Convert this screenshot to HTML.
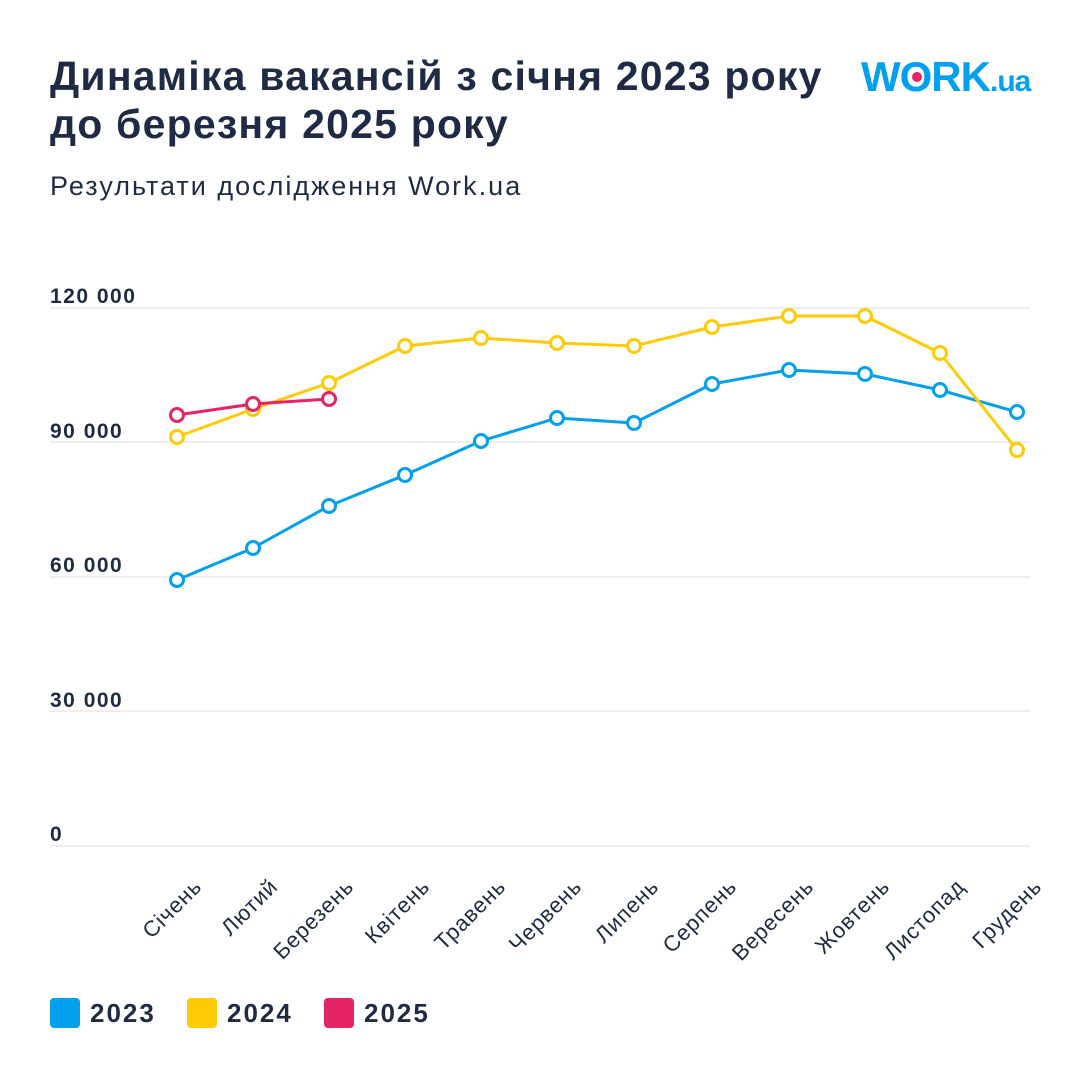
<!DOCTYPE html>
<html><head><meta charset="utf-8"><style>
html,body{margin:0;padding:0;background:#fff;}
body{width:1080px;height:1080px;overflow:hidden;font-family:"Liberation Sans","DejaVu Sans",sans-serif;}
</style></head><body>
<svg width="1080" height="1080" viewBox="0 0 1080 1080" xmlns="http://www.w3.org/2000/svg" font-family="Liberation Sans, DejaVu Sans, sans-serif">
<text x="50" y="90" font-size="41" font-weight="bold" fill="#1f2a44" letter-spacing="1.2">Динаміка вакансій з січня 2023 року</text>
<text x="50" y="138" font-size="41" font-weight="bold" fill="#1f2a44" letter-spacing="1.2">до березня 2025 року</text>
<text x="50" y="195" font-size="27" fill="#1f2a44" letter-spacing="2">Результати дослідження Work.ua</text>
<!-- logo -->
<text x="861" y="91" font-size="42" font-weight="bold" fill="#03a0ef" letter-spacing="-1">WORK<tspan font-size="30">.ua</tspan></text>
<circle cx="917" cy="77" r="5" fill="#e52465"/>
<!-- grid -->
<g stroke="#e8e9ee" stroke-width="1.5">
<line x1="50" y1="308" x2="1030" y2="308"/>
<line x1="50" y1="442" x2="1030" y2="442"/>
<line x1="50" y1="577" x2="1030" y2="577"/>
<line x1="50" y1="711" x2="1030" y2="711"/>
<line x1="50" y1="846" x2="1030" y2="846"/>
</g>
<g font-size="21" font-weight="bold" fill="#1f2a44" letter-spacing="1.5">
<text x="50" y="303">120 000</text>
<text x="50" y="438">90 000</text>
<text x="50" y="572">60 000</text>
<text x="50" y="707">30 000</text>
<text x="50" y="841">0</text>
</g>
<g fill="none" stroke-width="3" stroke-linejoin="round">
<polyline stroke="#03a0ef" points="177,580 253,548 329,506 405,475 481,441 557,418 634,423 712,384 789,370 865,374 940,390 1017,412"/>
<polyline stroke="#ffcb05" points="177,437 253,409 329,383 405,346 481,338 557,343 634,346 712,327 789,316 865,316 940,353 1017,450"/>
<polyline stroke="#e52465" points="177,415 253,404 329,399"/>
</g>
<g fill="#fff" stroke-width="3">
<g stroke="#03a0ef">
<circle cx="177" cy="580" r="6.5"/><circle cx="253" cy="548" r="6.5"/><circle cx="329" cy="506" r="6.5"/><circle cx="405" cy="475" r="6.5"/><circle cx="481" cy="441" r="6.5"/><circle cx="557" cy="418" r="6.5"/><circle cx="634" cy="423" r="6.5"/><circle cx="712" cy="384" r="6.5"/><circle cx="789" cy="370" r="6.5"/><circle cx="865" cy="374" r="6.5"/><circle cx="940" cy="390" r="6.5"/><circle cx="1017" cy="412" r="6.5"/>
</g>
<g stroke="#ffcb05">
<circle cx="177" cy="437" r="6.5"/><circle cx="253" cy="409" r="6.5"/><circle cx="329" cy="383" r="6.5"/><circle cx="405" cy="346" r="6.5"/><circle cx="481" cy="338" r="6.5"/><circle cx="557" cy="343" r="6.5"/><circle cx="634" cy="346" r="6.5"/><circle cx="712" cy="327" r="6.5"/><circle cx="789" cy="316" r="6.5"/><circle cx="865" cy="316" r="6.5"/><circle cx="940" cy="353" r="6.5"/><circle cx="1017" cy="450" r="6.5"/>
</g>
<g stroke="#e52465">
<circle cx="177" cy="415" r="6.5"/><circle cx="253" cy="404" r="6.5"/><circle cx="329" cy="399" r="6.5"/>
</g>
</g>
<g font-size="22" fill="#1f2a44" text-anchor="end" letter-spacing="0.8">
<text transform="translate(203,888) rotate(-45)">Січень</text>
<text transform="translate(279,888) rotate(-45)">Лютий</text>
<text transform="translate(355,888) rotate(-45)">Березень</text>
<text transform="translate(431,888) rotate(-45)">Квітень</text>
<text transform="translate(507,888) rotate(-45)">Травень</text>
<text transform="translate(583,888) rotate(-45)">Червень</text>
<text transform="translate(660,888) rotate(-45)">Липень</text>
<text transform="translate(738,888) rotate(-45)">Серпень</text>
<text transform="translate(815,888) rotate(-45)">Вересень</text>
<text transform="translate(891,888) rotate(-45)">Жовтень</text>
<text transform="translate(966,888) rotate(-45)">Листопад</text>
<text transform="translate(1043,888) rotate(-45)">Грудень</text>
</g>
<rect x="50" y="998" width="30" height="30" rx="4" fill="#03a0ef"/>
<text x="90" y="1022" font-size="26" font-weight="bold" fill="#1f2a44" letter-spacing="2">2023</text>
<rect x="187" y="998" width="30" height="30" rx="4" fill="#ffcb05"/>
<text x="227" y="1022" font-size="26" font-weight="bold" fill="#1f2a44" letter-spacing="2">2024</text>
<rect x="324" y="998" width="30" height="30" rx="4" fill="#e52465"/>
<text x="364" y="1022" font-size="26" font-weight="bold" fill="#1f2a44" letter-spacing="2">2025</text>
</svg>
</body></html>
